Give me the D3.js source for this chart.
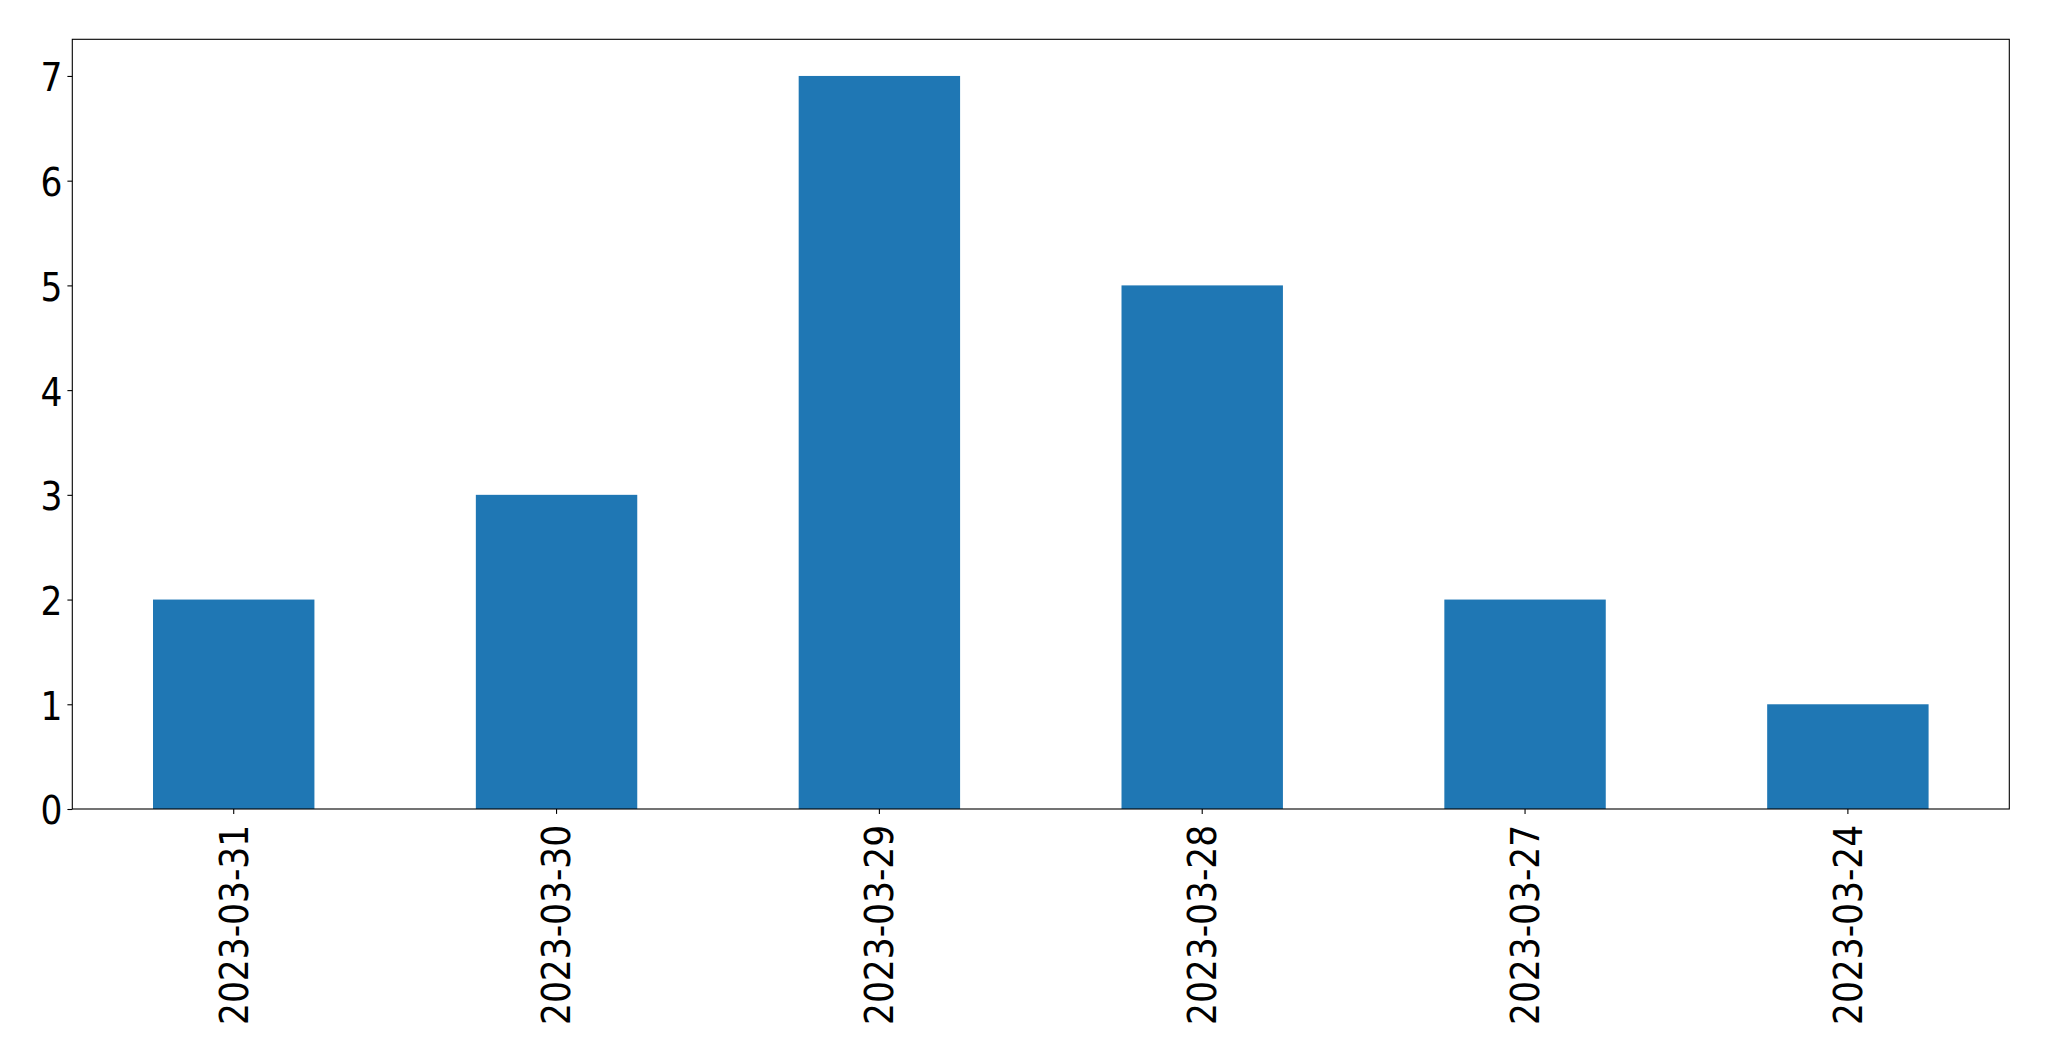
<!DOCTYPE html>
<html>
<head>
<meta charset="utf-8">
<script src="https://cdn.jsdelivr.net/npm/d3@7"></script>
<style>
html,body{margin:0;padding:0;background:#fff;}
svg{display:block;}
</style>
</head>
<body>
<svg id="chart" width="2049" height="1061"></svg>
<script>
const categories = ["2023-03-31","2023-03-30","2023-03-29","2023-03-28","2023-03-27","2023-03-24"];
const values = [2,3,7,5,2,1];
const yTicks = [0,1,2,3,4,5,6,7];

const W = 2049, H = 1061;
const margin = {left:72.3, right:W-2009.3, top:39.3, bottom:H-809};
const svg = d3.select("#chart");
const iw = W - margin.left - margin.right;
const ih = H - margin.top - margin.bottom;
const g = svg.append("g").attr("transform",`translate(${margin.left},${margin.top})`);

const x = d3.scaleBand().domain(categories).range([0, iw]).paddingInner(0.5).paddingOuter(0.25);
const yMax = d3.max(values) * 1.05;
const y = d3.scaleLinear().domain([0, yMax]).range([ih, 0]);

g.selectAll("rect.bar").data(values).join("rect")
  .attr("class","bar")
  .attr("x",(d,i)=>x(categories[i]))
  .attr("width",x.bandwidth())
  .attr("y",d=>y(d))
  .attr("height",d=>y(0)-y(d))
  .attr("fill","#1f77b4");

const font = "'DejaVu Sans Condensed', 'DejaVu Sans', sans-serif";
const fs = 38.3;

// y axis
const yAxis = g.append("g").call(d3.axisLeft(y).tickValues(yTicks).tickSize(4.9).tickPadding(4.9).tickFormat(d3.format("d")));
yAxis.select(".domain").remove();
yAxis.selectAll("line").attr("stroke","#000").attr("stroke-width",1.1);
yAxis.selectAll("text").attr("font-family",font).attr("font-stretch","condensed").attr("font-size",fs).attr("fill","#000").attr("dy","0.39em");

// x axis
const xAxis = g.append("g").attr("transform",`translate(0,${ih})`).call(d3.axisBottom(x).tickSize(4.9).tickPadding(4.9));
xAxis.select(".domain").remove();
xAxis.selectAll("line").attr("stroke","#000").attr("stroke-width",1.1);
xAxis.selectAll("text")
  .attr("font-family",font).attr("font-stretch","condensed").attr("font-size",fs).attr("fill","#000")
  .attr("text-anchor","end")
  .attr("dy","0.36em")
  .attr("transform","translate(0,15.8) rotate(-90)")
  .attr("x",0).attr("y",0);

// frame
g.append("rect").attr("x",0).attr("y",0).attr("width",iw).attr("height",ih)
  .attr("fill","none").attr("stroke","#000").attr("stroke-width",1.1);
</script>
</body>
</html>
